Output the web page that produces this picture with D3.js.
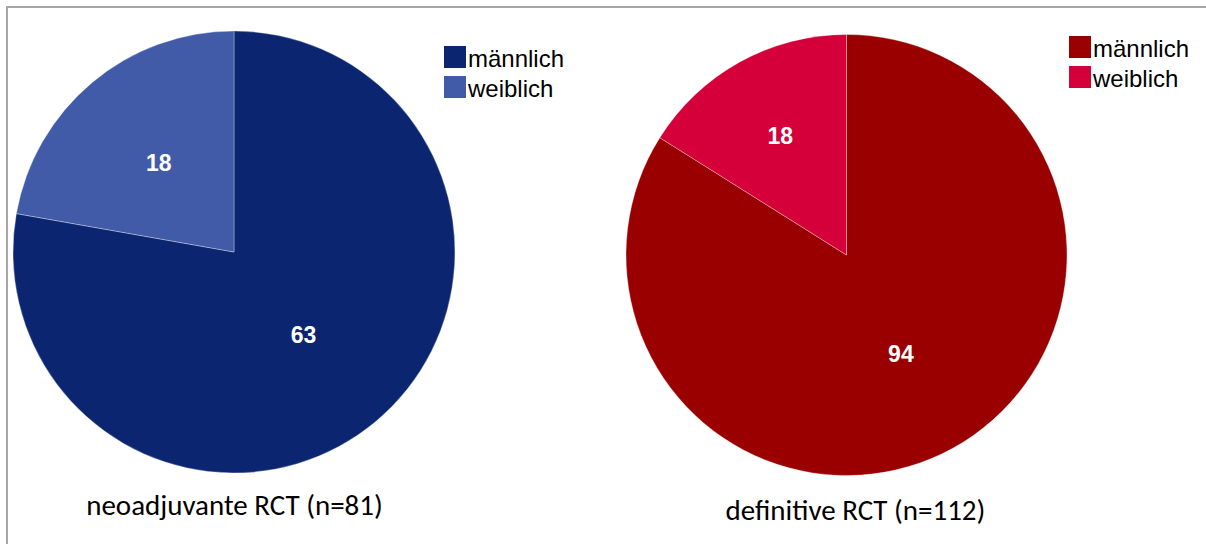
<!DOCTYPE html>
<html>
<head>
<meta charset="utf-8">
<script src="https://cdn.jsdelivr.net/npm/d3@7"></script>
<style>
  html, body { margin: 0; padding: 0; background: #fff; }
  svg { display: block; }
</style>
</head>
<body>
<svg id="chart" width="1206" height="544"></svg>
<script>
// Gender split per therapy group
const categories = ["männlich", "weiblich"];
const neoValues = [63, 18];
const defValues = [94, 18];
const groupTitles = ["neoadjuvante RCT (n=81)", "definitive RCT (n=112)"];
const neoColors = ["#0b2570", "#415ba8"];
const defColors = ["#9b0000", "#d5003a"];

const svg = d3.select("#chart");

// outer frame (only top/left edges fall inside the canvas)
svg.append("rect")
  .attr("x", 7).attr("y", 7)
  .attr("width", 1240).attr("height", 600)
  .attr("fill", "none")
  .attr("stroke", "#a6a6a6")
  .attr("stroke-width", 2);

const panels = [
  { values: neoValues, colors: neoColors, title: groupTitles[0],
    cx: 234, cy: 252, r: 221, labelK: [0.98, 1.06],
    legendX: 444, legendY: 46, titleX: 234.5, titleY: 515 },
  { values: defValues, colors: defColors, title: groupTitles[1],
    cx: 846.5, cy: 255, r: 220.5, labelK: [1.02, 1.24],
    legendX: 1069, legendY: 36, titleX: 855.5, titleY: 520 }
];

const pie = d3.pie().sort(null).value(d => d);

panels.forEach(p => {
  const color = d3.scaleOrdinal().domain(categories).range(p.colors);
  const arc = d3.arc().innerRadius(0).outerRadius(p.r);
  const g = svg.append("g").attr("transform", `translate(${p.cx},${p.cy})`);
  const arcs = pie(p.values);

  g.selectAll("path.slice")
    .data(arcs)
    .join("path")
    .attr("class", "slice")
    .attr("d", arc)
    .attr("fill", (d, i) => color(categories[i]))
    .attr("stroke", "rgba(255,255,255,0.45)")
    .attr("stroke-width", 0.7);

  // value labels inside the slices
  g.selectAll("text.val")
    .data(arcs)
    .join("text")
    .attr("class", "val")
    .attr("transform", (d, i) => {
      const c = arc.centroid(d);
      const k = p.labelK[i];
      return `translate(${c[0] * k},${c[1] * k})`;
    })
    .attr("text-anchor", "middle")
    .attr("dy", "0.36em")
    .attr("fill", "#fff")
    .attr("font-family", "'Liberation Sans', Arial, sans-serif")
    .attr("font-weight", "bold")
    .attr("font-size", 23)
    .text(d => d.data);

  // legend
  const lg = svg.append("g").attr("transform", `translate(${p.legendX},${p.legendY})`);
  categories.forEach((c, i) => {
    lg.append("rect")
      .attr("x", 0).attr("y", i * 30)
      .attr("width", 22).attr("height", 22)
      .attr("fill", color(c));
    lg.append("text")
      .attr("x", 24).attr("y", i * 30 + 21)
      .attr("font-family", "'Liberation Sans', Arial, sans-serif")
      .attr("font-size", 24)
      .attr("fill", "#000")
      .text(c);
  });

  // group title below each pie
  svg.append("text")
    .attr("x", p.titleX).attr("y", p.titleY)
    .attr("text-anchor", "middle")
    .attr("font-family", "Carlito, Lato, 'Open Sans', sans-serif")
    .attr("font-size", 29)
    .attr("fill", "#000")
    .text(p.title);
});
</script>
</body>
</html>
